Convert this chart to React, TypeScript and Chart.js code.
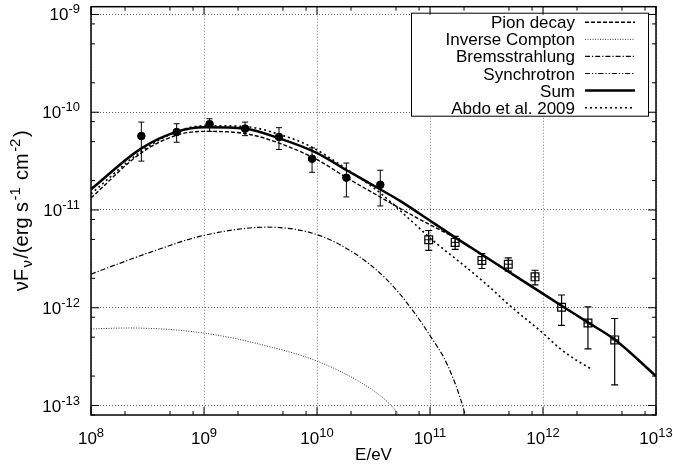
import React, { useEffect, useRef } from 'react';
import { Chart, registerables } from 'chart.js';

Chart.register(...registerables);

const FONT = "'Liberation Sans', Arial, Helvetica, sans-serif";
const FS = 17;
const FS_SMALL = 13;
const FS_TITLE = 20;
const FS_TITLE_SMALL = 15;

// ---- axes ----
const xMin = 1e8;
const xMax = 1e13;
const yMin = 8e-14;
const yMax = 1.2e-9;
const tickBase = '10';
const xTickValues = [1e8, 1e9, 1e10, 1e11, 1e12, 1e13];
const xTickExponents = ['8', '9', '10', '11', '12', '13'];
const yTickValues = [1e-13, 1e-12, 1e-11, 1e-10, 1e-9];
const yTickExponents = ['-13', '-12', '-11', '-10', '-9'];
const minorMultipliers = [2, 5, 8];
const xTitle = 'E/eV';
// y title fragments: [text, kind] kind: n = normal, sub, sup
const yTitleParts: [string, string][] = [
  ['νF', 'n'],
  ['ν', 'sub'],
  ['/(erg s', 'n'],
  ['-1', 'sup'],
  [' cm', 'n'],
  ['-2', 'sup'],
  [')', 'n'],
];

// ---- model curves ----
const pionE = [1e8, 2.79e8, 5.69e8, 1.02e9, 2.45e9, 4.71e9, 9.93e9, 1.83e10, 3.61e10, 8.17e10, 1.68e11, 2.88e11, 4.93e11, 8.5e11, 1.46e12, 2.5e12, 4.31e12, 1e13];
const pionF = [1.33e-11, 3.84e-11, 5.81e-11, 6.37e-11, 5.98e-11, 4.79e-11, 3.29e-11, 2.14e-11, 1.36e-11, 7.98e-12, 5.15e-12, 3.47e-12, 2.34e-12, 1.57e-12, 1.05e-12, 7.06e-13, 4.72e-13, 2.0e-13];

const icE = [1e8, 2.16e8, 9.9e8, 3.18e9, 9.96e9, 2.44e10, 4.25e10, 5.1e10, 5.43e10];
const icF = [6.07e-13, 6.21e-13, 5.52e-13, 4.21e-13, 2.85e-13, 1.72e-13, 1.08e-13, 8.53e-14, 7.6e-14];

const bremsE = [1e8, 3.33e8, 9.9e8, 3.61e9, 9.9e9, 2.16e10, 4.04e10, 6.71e10, 9.87e10, 1.44e11, 2.02e11, 2.08e11];
const bremsF = [2.21e-12, 3.69e-12, 5.48e-12, 6.67e-12, 5.62e-12, 3.58e-12, 2.0e-12, 1.01e-12, 5.31e-13, 2.54e-13, 8.5e-14, 7.3e-14];

const synchE: number[] = [];
const synchF: number[] = [];

const sumE = [1e8, 2.79e8, 5.71e8, 1.02e9, 2.31e9, 4.71e9, 9.93e9, 1.83e10, 3.61e10, 5.43e10, 8.17e10, 1.68e11, 2.88e11, 4.93e11, 8.5e11, 1.46e12, 2.5e12, 4.31e12, 1e13];
const sumF = [1.63e-11, 4.27e-11, 6.3e-11, 7.0e-11, 6.79e-11, 5.37e-11, 3.84e-11, 2.55e-11, 1.63e-11, 1.24e-11, 9.1e-12, 5.22e-12, 3.5e-12, 2.35e-12, 1.57e-12, 1.05e-12, 7.08e-13, 4.73e-13, 2.0e-13];

const abdoE = [1e8, 2.79e8, 5.69e8, 1.01e9, 2.45e9, 4.71e9, 8.67e9, 1.83e10, 3.61e10, 6.22e10, 1.06e11, 1.84e11, 3.07e11, 5.1e11, 1.01e12, 1.41e12, 1.99e12, 2.61e12];
const abdoF = [1.46e-11, 3.99e-11, 6.3e-11, 7.28e-11, 7.08e-11, 5.9e-11, 4.49e-11, 2.62e-11, 1.5e-11, 8.55e-12, 4.89e-12, 2.92e-12, 1.79e-12, 1.05e-12, 5.43e-13, 3.83e-13, 2.89e-13, 2.4e-13];

// ---- measurements ----
const fermiE = [2.79e8, 5.73e8, 1.12e9, 2.31e9, 4.61e9, 9.04e9, 1.82e10, 3.63e10];
const fermiF = [5.71e-11, 6.27e-11, 7.55e-11, 6.79e-11, 5.58e-11, 3.34e-11, 2.14e-11, 1.81e-11];
const fermiHigh = [7.92e-11, 7.63e-11, 8.57e-11, 7.92e-11, 6.95e-11, 4.31e-11, 3.02e-11, 2.55e-11];
const fermiLow = [3.16e-11, 4.93e-11, 6.37e-11, 5.76e-11, 4.16e-11, 2.43e-11, 1.36e-11, 1.1e-11];

const hessE = [9.74e10, 1.67e11, 2.88e11, 4.93e11, 8.5e11, 1.46e12, 2.5e12, 4.31e12];
const hessF = [4.96e-12, 4.66e-12, 3.04e-12, 2.79e-12, 2.07e-12, 1.01e-12, 6.98e-13, 4.69e-13];
const hessHigh = [6.17e-12, 5.36e-12, 3.58e-12, 3.23e-12, 2.42e-12, 1.35e-12, 1.02e-12, 7.76e-13];
const hessLow = [3.87e-12, 3.96e-12, 2.52e-12, 2.37e-12, 1.71e-12, 6.6e-13, 3.8e-13, 1.63e-13];

const legendLabels = ['Pion decay', 'Inverse Compton', 'Bremsstrahlung', 'Synchrotron', 'Sum', 'Abdo et al. 2009'];

const pts = (xs: number[], ys: number[]) => xs.map((x, i) => ({ x, y: ys[i] }));

const curve = (label: string, xs: number[], ys: number[], width: number, dash: number[], color = '#000') => ({
  label,
  data: pts(xs, ys),
  showLine: true,
  borderColor: color,
  backgroundColor: color,
  borderWidth: width,
  borderDash: dash,
  pointRadius: 0,
  pointHoverRadius: 0,
  cubicInterpolationMode: 'monotone' as const,
  fill: false,
});

const fontN = `${FS}px ${FONT}`;
const fontS = `${FS_SMALL}px ${FONT}`;

const errorBarPlugin = {
  id: 'errorBars',
  beforeDatasetsDraw(chart: any) {
    const { ctx, chartArea, scales } = chart;
    const x = scales.x;
    const y = scales.y;
    ctx.save();
    ctx.beginPath();
    ctx.rect(chartArea.left, chartArea.top, chartArea.right - chartArea.left, chartArea.bottom - chartArea.top);
    ctx.clip();
    ctx.strokeStyle = '#000';
    const draw = (E: number[], lo: number[], hi: number[], cap: number, lw: number) => {
      ctx.lineWidth = lw;
      E.forEach((e, i) => {
        const px = x.getPixelForValue(e);
        const p1 = y.getPixelForValue(lo[i]);
        const p2 = y.getPixelForValue(hi[i]);
        ctx.beginPath();
        ctx.moveTo(px, p1);
        ctx.lineTo(px, p2);
        ctx.moveTo(px - cap, p1);
        ctx.lineTo(px + cap, p1);
        ctx.moveTo(px - cap, p2);
        ctx.lineTo(px + cap, p2);
        ctx.stroke();
      });
    };
    draw(fermiE, fermiLow, fermiHigh, 3, 1);
    draw(hessE, hessLow, hessHigh, 3.5, 1.2);
    ctx.restore();
  },
};

const legendPlugin = {
  id: 'gnuLegend',
  afterDatasetsDraw(chart: any) {
    const { ctx, chartArea } = chart;
    const right = chartArea.right - 7;
    const top = chartArea.top + 6;
    const width = 238;
    const height = 104;
    const left = right - width;
    ctx.save();
    ctx.fillStyle = '#fff';
    ctx.fillRect(left, top, width, height);
    ctx.strokeStyle = '#000';
    ctx.lineWidth = 1;
    ctx.setLineDash([]);
    ctx.strokeRect(left + 0.5, top + 0.5, width - 1, height - 1);
    ctx.font = fontN;
    ctx.textAlign = 'right';
    ctx.textBaseline = 'alphabetic';
    legendLabels.forEach((lab, i) => {
      const ds = chart.data.datasets.find((d: any) => d.label === lab);
      const cy = top + 9.5 + i * 17.1;
      ctx.fillStyle = '#000';
      ctx.fillText(lab, left + 164, cy + 6);
      if (ds) {
        ctx.beginPath();
        ctx.strokeStyle = ds.borderColor;
        ctx.lineWidth = ds.borderWidth;
        ctx.setLineDash(ds.borderDash || []);
        ctx.moveTo(left + 174, cy);
        ctx.lineTo(left + 224, cy);
        ctx.stroke();
        ctx.setLineDash([]);
      }
    });
    ctx.restore();
  },
};

const framePlugin = {
  id: 'frameTicks',
  afterDraw(chart: any) {
    const { ctx, chartArea, scales } = chart;
    const x = scales.x;
    const y = scales.y;
    const { left, right, top, bottom } = chartArea;
    ctx.save();
    ctx.strokeStyle = '#000';
    ctx.setLineDash([]);
    ctx.lineWidth = 1;
    const major = 8;
    const minor = 4;
    const line = (x1: number, y1: number, x2: number, y2: number) => {
      ctx.beginPath();
      ctx.moveTo(x1, y1);
      ctx.lineTo(x2, y2);
      ctx.stroke();
    };
    const xTickPositions: [number, number][] = [];
    xTickValues.forEach((v) => {
      xTickPositions.push([v, major]);
      minorMultipliers.forEach((m) => {
        if (v * m < xMax) xTickPositions.push([v * m, minor]);
      });
    });
    xTickPositions.forEach(([v, len]) => {
      const px = x.getPixelForValue(v);
      line(px, bottom, px, bottom - len);
      line(px, top, px, top + len);
    });
    const yTickPositions: [number, number][] = [];
    [1e-14, ...yTickValues].forEach((v) => {
      if (v >= yMin && v <= yMax) yTickPositions.push([v, major]);
      minorMultipliers.forEach((m) => {
        const vv = v * m;
        if (vv >= yMin && vv <= yMax) yTickPositions.push([vv, minor]);
      });
    });
    yTickPositions.forEach(([v, len]) => {
      const py = y.getPixelForValue(v);
      line(left, py, left + len, py);
      line(right, py, right - len, py);
    });
    ctx.lineWidth = 1.5;
    ctx.strokeRect(left, top, right - left, bottom - top);

    // tick labels: "10" with superscript exponent
    ctx.fillStyle = '#000';
    ctx.textBaseline = 'alphabetic';
    ctx.textAlign = 'left';
    xTickValues.forEach((v, i) => {
      const px = x.getPixelForValue(v);
      ctx.font = fontN;
      const wb = ctx.measureText(tickBase).width;
      ctx.font = fontS;
      const we = ctx.measureText(xTickExponents[i]).width;
      const x0 = px - (wb + we) / 2;
      ctx.font = fontN;
      ctx.fillText(tickBase, x0, bottom + 29);
      ctx.font = fontS;
      ctx.fillText(xTickExponents[i], x0 + wb, bottom + 22);
    });
    yTickValues.forEach((v, i) => {
      const py = y.getPixelForValue(v);
      ctx.font = fontS;
      const we = ctx.measureText(yTickExponents[i]).width;
      ctx.font = fontN;
      const wb = ctx.measureText(tickBase).width;
      const xr = left - 11;
      ctx.fillText(tickBase, xr - we - wb, py + 6);
      ctx.font = fontS;
      ctx.fillText(yTickExponents[i], xr - we, py - 1);
    });

    // y axis title, rotated, with sub/superscripts
    const gap = 1.5;
    const fontFor = (k: string) => `${k === 'n' ? FS_TITLE : FS_TITLE_SMALL}px ${FONT}`;
    const widths = yTitleParts.map(([t, k]) => {
      ctx.font = fontFor(k);
      return ctx.measureText(t).width;
    });
    const total = widths.reduce((a, b) => a + b, 0) + gap * (yTitleParts.length - 1);
    ctx.translate(21, (top + bottom) / 2);
    ctx.rotate(-Math.PI / 2);
    let cx = -total / 2;
    yTitleParts.forEach(([t, k], i) => {
      ctx.font = fontFor(k);
      const dy = k === 'sub' ? 4 : k === 'sup' ? -8 : 0;
      ctx.fillText(t, cx, 7 + dy);
      cx += widths[i] + gap;
    });
    ctx.restore();
  },
};

export default function App() {
  const ref = useRef<HTMLCanvasElement>(null);
  useEffect(() => {
    if (!ref.current) return;
    const chart = new Chart(ref.current, {
      type: 'scatter',
      data: {
        datasets: [
          {
            label: 'Fermi',
            data: pts(fermiE, fermiF),
            pointStyle: 'circle',
            pointRadius: 3.8,
            backgroundColor: '#000',
            borderColor: '#000',
            borderWidth: 1,
            showLine: false,
          } as any,
          {
            label: 'HESS',
            data: pts(hessE, hessF),
            pointStyle: 'rect',
            pointRadius: 5.5,
            backgroundColor: 'rgba(255,255,255,0)',
            borderColor: '#000',
            borderWidth: 1.2,
            showLine: false,
          } as any,
          {
            label: 'HESS cross',
            data: pts(hessE, hessF),
            pointStyle: 'cross',
            pointRadius: 3.9,
            backgroundColor: '#000',
            borderColor: '#000',
            borderWidth: 1,
            showLine: false,
          } as any,
          curve('Sum', sumE, sumF, 2.5, []),
          curve('Pion decay', pionE, pionF, 1.4, [4, 2]),
          curve('Abdo et al. 2009', abdoE, abdoF, 1.6, [2, 3]),
          curve('Bremsstrahlung', bremsE, bremsF, 1.2, [5, 2, 1.2, 2]),
          curve('Inverse Compton', icE, icF, 1, [1, 1.5], '#333'),
          curve('Synchrotron', synchE, synchF, 1.2, [5, 2, 1.2, 2, 1.2, 2]),
        ],
      },
      options: {
        animation: false,
        responsive: true,
        maintainAspectRatio: false,
        layout: { padding: { left: 0, right: 17, top: 5, bottom: 0 } },
        plugins: {
          legend: { display: false },
          tooltip: { enabled: false },
        },
        scales: {
          x: {
            type: 'logarithmic',
            min: xMin,
            max: xMax,
            afterBuildTicks: (s: any) => {
              s.ticks = xTickValues.map((v) => ({ value: v, major: true }));
            },
            afterFit: (s: any) => {
              s.height = 55;
              s.paddingLeft = 0;
              s.paddingRight = 0;
            },
            ticks: { display: false, autoSkip: false, maxRotation: 0 },
            grid: { color: 'rgba(0,0,0,0.5)', lineWidth: 1, drawTicks: false },
            border: { display: false, dash: [1, 2] },
            title: {
              display: true,
              text: xTitle,
              color: '#000',
              font: { family: FONT, size: FS },
              padding: { top: 0, bottom: 4 },
            },
          },
          y: {
            type: 'logarithmic',
            min: yMin,
            max: yMax,
            afterBuildTicks: (s: any) => {
              s.ticks = yTickValues.map((v) => ({ value: v, major: true }));
            },
            afterFit: (s: any) => {
              s.width = 91;
              s.paddingTop = 0;
              s.paddingBottom = 0;
            },
            ticks: { display: false, autoSkip: false },
            grid: { color: 'rgba(0,0,0,0.6)', lineWidth: 1, drawTicks: false },
            border: { display: false, dash: [1, 2] },
          },
        },
      } as any,
      plugins: [errorBarPlugin, legendPlugin, framePlugin],
    });
    return () => chart.destroy();
  }, []);
  return (
    <div style={{ position: 'fixed', left: 0, top: 0, width: 673, height: 470, background: '#fff' }}>
      <canvas ref={ref} />
    </div>
  );
}
